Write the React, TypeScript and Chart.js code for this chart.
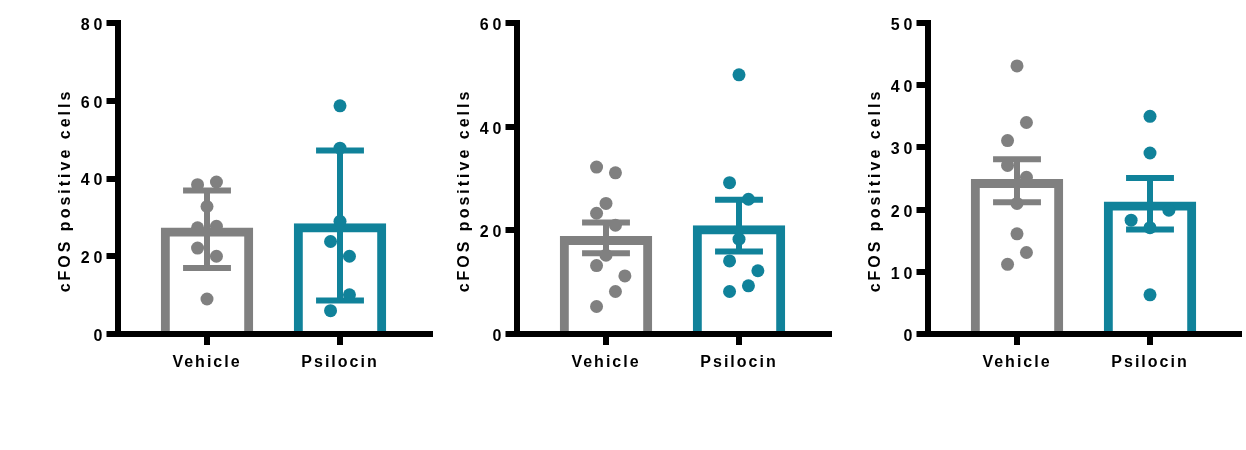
import React, { useEffect, useRef } from 'react';
import { Chart, registerables } from 'chart.js';

Chart.register(...registerables);

// ---------- data ----------
const categories = ['Vehicle', 'Psilocin'];
const yTitle = 'cFOS positive cells';

// Panel 1
const p1Means = [27.4, 28.5];
const p1ErrHigh = [36.9, 47.2];
const p1ErrLow = [17.0, 8.6];
const p1Vehicle = [38.4, 39.1, 32.8, 27.3, 27.7, 22.1, 20.0, 9.0];
const p1VehicleLanes = [-1, 1, 0, -1, 1, -1, 1, 0];
const p1Psilocin = [58.7, 47.8, 29.0, 23.8, 20.0, 10.1, 6.0];
const p1PsilocinLanes = [0, 0, 0, -1, 1, 1, -1];
const p1YTicks = [0, 20, 40, 60, 80];

// Panel 2
const p2Means = [18.9, 21.0];
const p2ErrHigh = [21.5, 25.9];
const p2ErrLow = [15.6, 15.9];
const p2Vehicle = [32.2, 31.1, 25.2, 23.3, 21.0, 15.2, 13.2, 11.2, 8.2, 5.3];
const p2VehicleLanes = [-1, 1, 0, -1, 1, 0, -1, 2, 1, -1];
const p2Psilocin = [50.0, 29.2, 26.0, 18.3, 14.1, 12.2, 9.3, 8.2];
const p2PsilocinLanes = [0, -1, 1, 0, -1, 2, 1, -1];
const p2YTicks = [0, 20, 40, 60];

// Panel 3
const p3Means = [24.9, 21.3];
const p3ErrHigh = [28.1, 25.1];
const p3ErrLow = [21.2, 16.8];
const p3Vehicle = [43.1, 34.0, 31.1, 27.1, 25.2, 21.0, 16.1, 13.1, 11.2];
const p3VehicleLanes = [0, 1, -1, -1, 1, 0, 0, 1, -1];
const p3Psilocin = [35.0, 29.1, 19.9, 18.3, 17.1, 6.3];
const p3PsilocinLanes = [0, 0, 2, -2, 0, 0];
const p3YTicks = [0, 10, 20, 30, 40, 50];

// ---------- layout / style ----------
const H = 450;
const TOP = 23;
const BOTTOM = 334;
const CAT_PX = 133;
const FIRST_OFFSET_PX = 89;
const LANE = 0.071;
const CAP = 0.18;
const COLORS = ['#808080', '#10829a'];
const FONT_FAMILY = '"Liberation Sans", Arial, Helvetica, sans-serif';

type PanelDef = {
  left: number;
  width: number;
  axisX: number;
  axisRight: number;
  yTicks: number[];
  means: number[];
  errHigh: number[];
  errLow: number[];
  vehicle: number[];
  vehicleLanes: number[];
  psilocin: number[];
  psilocinLanes: number[];
};

const panels: PanelDef[] = [
  { left: 0, width: 440, axisX: 118, axisRight: 430, yTicks: p1YTicks, means: p1Means, errHigh: p1ErrHigh, errLow: p1ErrLow, vehicle: p1Vehicle, vehicleLanes: p1VehicleLanes, psilocin: p1Psilocin, psilocinLanes: p1PsilocinLanes },
  { left: 440, width: 400, axisX: 517, axisRight: 829, yTicks: p2YTicks, means: p2Means, errHigh: p2ErrHigh, errLow: p2ErrLow, vehicle: p2Vehicle, vehicleLanes: p2VehicleLanes, psilocin: p2Psilocin, psilocinLanes: p2PsilocinLanes },
  { left: 840, width: 406, axisX: 928, axisRight: 1239, yTicks: p3YTicks, means: p3Means, errHigh: p3ErrHigh, errLow: p3ErrLow, vehicle: p3Vehicle, vehicleLanes: p3VehicleLanes, psilocin: p3Psilocin, psilocinLanes: p3PsilocinLanes },
];

function patchSpacing(scale: any, sp: string, dy: number) {
  if (!scale || scale.__sp === sp) return;
  const proto = Object.getPrototypeOf(scale);
  scale.drawLabels = function (ca: any) {
    const ctx = this.ctx;
    ctx.save();
    (ctx as any).letterSpacing = sp;
    ctx.translate(0, dy);
    proto.drawLabels.call(this, ca);
    ctx.restore();
  };
  scale.__sp = sp;
}

function makeConfig(p: PanelDef): any {
  const span = p.axisRight - p.axisX;
  const xMin = -FIRST_OFFSET_PX / CAT_PX;
  const xMax = (span - FIRST_OFFSET_PX) / CAT_PX;
  const yMax = p.yTicks[p.yTicks.length - 1];
  const yStep = p.yTicks[1] - p.yTicks[0];

  const spacingPlugin = {
    id: 'tickSpacing',
    beforeDraw(chart: any) {
      patchSpacing(chart.scales.x, '2px', 0);
      patchSpacing(chart.scales.y, '4px', 2.5);
    },
  };

  const errorBarPlugin = {
    id: 'errorBars',
    afterDatasetsDraw(chart: any) {
      const { ctx } = chart;
      const xs = chart.scales.x;
      const ys = chart.scales.y;
      ctx.save();
      ctx.lineWidth = 6;
      ctx.lineCap = 'butt';
      p.errHigh.forEach((hi, i) => {
        const lo = p.errLow[i];
        const cx = xs.getPixelForValue(i);
        const x1 = xs.getPixelForValue(i - CAP);
        const x2 = xs.getPixelForValue(i + CAP);
        const yh = ys.getPixelForValue(hi);
        const yl = ys.getPixelForValue(lo);
        ctx.strokeStyle = COLORS[i];
        ctx.beginPath();
        ctx.moveTo(cx, yh);
        ctx.lineTo(cx, yl);
        ctx.moveTo(x1, yh);
        ctx.lineTo(x2, yh);
        ctx.moveTo(x1, yl);
        ctx.lineTo(x2, yl);
        ctx.stroke();
      });
      ctx.restore();
    },
  };

  const titlePlugin = {
    id: 'yTitle',
    afterDraw(chart: any) {
      const { ctx, chartArea } = chart;
      ctx.save();
      ctx.font = `bold 16px ${FONT_FAMILY}`;
      ctx.fillStyle = '#000';
      (ctx as any).letterSpacing = '3px';
      ctx.translate(chartArea.left - 48.5, (chartArea.top + chartArea.bottom) / 2 + 13.5);
      ctx.rotate(-Math.PI / 2);
      ctx.textAlign = 'center';
      ctx.textBaseline = 'alphabetic';
      ctx.fillText(yTitle, 1.5, 0);
      ctx.restore();
    },
  };

  const tickFont = { family: FONT_FAMILY, size: 16, weight: 'bold' as const };

  return {
    type: 'bar',
    data: {
      datasets: [
        {
          type: 'bar',
          data: p.means.map((m, i) => ({ x: i, y: m })),
          backgroundColor: 'rgba(255,255,255,0)',
          borderColor: COLORS,
          borderWidth: 9,
          borderSkipped: 'bottom',
          categoryPercentage: 1,
          barPercentage: 0.695,
          order: 3,
        },
        {
          type: 'scatter',
          data: p.vehicle.map((v, k) => ({ x: 0 + p.vehicleLanes[k] * LANE, y: v })),
          backgroundColor: COLORS[0],
          borderWidth: 0,
          pointRadius: 6.5,
          order: 1,
        },
        {
          type: 'scatter',
          data: p.psilocin.map((v, k) => ({ x: 1 + p.psilocinLanes[k] * LANE, y: v })),
          backgroundColor: COLORS[1],
          borderWidth: 0,
          pointRadius: 6.5,
          order: 1,
        },
      ],
    },
    options: {
      responsive: false,
      animation: false,
      layout: { padding: { top: TOP, right: p.left + p.width - p.axisRight, left: 0, bottom: 0 } },
      plugins: {
        legend: { display: false },
        tooltip: { enabled: false },
        title: { display: false },
      },
      scales: {
        x: {
          type: 'linear',
          offset: false,
          min: xMin,
          max: xMax,
          afterBuildTicks: (s: any) => {
            s.ticks = categories.map((_, i) => ({ value: i }));
          },
          afterFit: (s: any) => {
            s.height = H - BOTTOM;
          },
          grid: { display: true, offset: false, drawOnChartArea: false, drawTicks: true, tickLength: 11, lineWidth: 6, color: '#000' },
          border: { display: true, width: 6, color: '#000', z: 1 },
          ticks: {
            callback: (v: any) => categories[v] ?? '',
            font: tickFont,
            color: '#000',
            padding: 8,
            maxRotation: 0,
            autoSkip: false,
          },
        },
        y: {
          type: 'linear',
          min: 0,
          max: yMax,
          afterFit: (s: any) => {
            s.width = p.axisX - p.left;
          },
          grid: { display: true, drawOnChartArea: false, drawTicks: true, tickLength: 11.5, lineWidth: 6, color: '#000' },
          border: { display: true, width: 6, color: '#000', z: 1 },
          ticks: { stepSize: yStep, font: tickFont, color: '#000', padding: 0 },
        },
      },
    },
    plugins: [spacingPlugin, errorBarPlugin, titlePlugin],
  };
}

export default function App() {
  const refs = useRef<(HTMLCanvasElement | null)[]>([]);

  useEffect(() => {
    const charts = panels.map((p, i) => {
      const c = refs.current[i]!;
      return new Chart(c, makeConfig(p));
    });
    return () => charts.forEach((ch) => ch.destroy());
  }, []);

  return (
    <div style={{ position: 'fixed', left: 0, top: 0, width: 1246, height: H, background: '#fff', overflow: 'hidden' }}>
      {panels.map((p, i) => (
        <canvas
          key={i}
          ref={(el) => {
            refs.current[i] = el;
          }}
          width={p.width}
          height={H}
          style={{ position: 'absolute', left: p.left, top: 0, width: p.width, height: H }}
        />
      ))}
    </div>
  );
}
